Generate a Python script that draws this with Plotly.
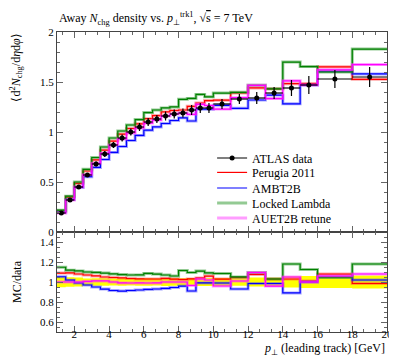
import plotly.graph_objects as go
from plotly.subplots import make_subplots

# ---- data ----
bin_edges = [1, 1.5, 2, 2.5, 3, 3.5, 4, 4.5, 5, 5.5, 6, 6.5, 7, 7.5, 8, 8.5, 9, 9.5, 10,
             11, 12, 13, 14, 15, 16, 18, 20]
data_vals = [0.19, 0.32, 0.45, 0.57, 0.68, 0.78, 0.87, 0.94, 1.00, 1.05, 1.10, 1.13, 1.16,
             1.18, 1.19, 1.22, 1.24, 1.24, 1.28, 1.33, 1.34, 1.39, 1.44, 1.47, 1.53, 1.55]
data_errs = [0.01, 0.015, 0.02, 0.02, 0.025, 0.03, 0.03, 0.035, 0.035, 0.04, 0.04, 0.04, 0.045,
             0.045, 0.045, 0.05, 0.05, 0.05, 0.05, 0.05, 0.06, 0.06, 0.08, 0.09, 0.09, 0.10]
perugia2011 = [0.207, 0.349, 0.486, 0.610, 0.721, 0.819, 0.909, 0.978, 1.035, 1.082, 1.133, 1.164,
               1.201, 1.215, 1.220, 1.257, 1.290, 1.314, 1.318, 1.390, 1.441, 1.432, 1.483, 1.485,
               1.652, 1.527]
ambt2b = [0.200, 0.326, 0.446, 0.553, 0.646, 0.725, 0.796, 0.855, 0.915, 0.966, 1.018, 1.051,
          1.085, 1.115, 1.142, 1.110, 1.228, 1.228, 1.267, 1.237, 1.320, 1.369, 1.282, 1.470,
          1.607, 1.581]
locked_lambda = [0.218, 0.358, 0.500, 0.627, 0.745, 0.850, 0.940, 1.010, 1.070, 1.124, 1.194, 1.220,
                 1.241, 1.251, 1.327, 1.336, 1.376, 1.352, 1.389, 1.397, 1.467, 1.432, 1.699, 1.654,
                 1.600, 1.829]
auet2b_retune = [0.190, 0.320, 0.450, 0.573, 0.687, 0.788, 0.870, 0.931, 0.990, 1.040, 1.089, 1.119,
                 1.160, 1.180, 1.190, 1.177, 1.277, 1.265, 1.229, 1.343, 1.467, 1.334, 1.512, 1.470,
                 1.622, 1.674]

series = [
    ("Perugia 2011", perugia2011, "#ff0000", "rgba(255,60,60,0.45)", False),
    ("AMBT2B", ambt2b, "#0000ff", "rgba(60,60,255,0.45)", False),
    ("Locked Lambda", locked_lambda, "#008000", "rgba(40,150,40,0.5)", True),
    ("AUET2B retune", auet2b_retune, "#ff00ff", "rgba(255,60,255,0.5)", True),
]

FONT = "Liberation Serif"

centres = [(a + b) / 2 for a, b in zip(bin_edges[:-1], bin_edges[1:])]
halfw = [(b - a) / 2 for a, b in zip(bin_edges[:-1], bin_edges[1:])]


def step(vals):
    return list(bin_edges), list(vals) + [vals[-1]]


fig = make_subplots(rows=2, cols=1, shared_xaxes=True, row_heights=[2 / 3, 1 / 3],
                    vertical_spacing=0)

# ratio panel: yellow data band
lo = [1 - e / v for v, e in zip(data_vals, data_errs)]
hi = [1 + e / v for v, e in zip(data_vals, data_errs)]
xs, ys = step(lo)
fig.add_trace(go.Scatter(x=xs, y=ys, mode="lines", line=dict(width=0, shape="hv"),
                         showlegend=False, hoverinfo="skip"), row=2, col=1)
xs, ys = step(hi)
fig.add_trace(go.Scatter(x=xs, y=ys, mode="lines", line=dict(width=0, shape="hv"),
                         fill="tonexty", fillcolor="#ffff00", showlegend=False,
                         hoverinfo="skip"), row=2, col=1)

# MC histograms
for name, vals, col, light, thick_leg in series:
    xs, ys = step(vals)
    fig.add_trace(go.Scatter(x=xs, y=ys, mode="lines", line=dict(color=light, width=3, shape="hv"),
                             showlegend=False, hoverinfo="skip"), row=1, col=1)
    fig.add_trace(go.Scatter(x=xs, y=ys, mode="lines", line=dict(color=col, width=1.2, shape="hv"),
                             showlegend=False), row=1, col=1)
    ratio = [m / d for m, d in zip(vals, data_vals)]
    xs, ys = step(ratio)
    fig.add_trace(go.Scatter(x=xs, y=ys, mode="lines", line=dict(color=light, width=3, shape="hv"),
                             showlegend=False, hoverinfo="skip"), row=2, col=1)
    fig.add_trace(go.Scatter(x=xs, y=ys, mode="lines", line=dict(color=col, width=1.2, shape="hv"),
                             showlegend=False), row=2, col=1)

# data points
fig.add_trace(go.Scatter(x=centres, y=data_vals, mode="markers",
                         marker=dict(color="black", size=5),
                         error_y=dict(type="data", array=data_errs, color="black", thickness=1.2, width=0),
                         error_x=dict(type="data", array=halfw, color="black", thickness=1.2, width=0),
                         showlegend=False), row=1, col=1)

# legend entries, one small legend per entry so the row spacing matches
legend_names = ["legend", "legend2", "legend3", "legend4", "legend5"]
legend_rows_y = [0.58, 0.532, 0.48, 0.43, 0.38]

fig.add_trace(go.Scatter(x=[None], y=[None], mode="lines+markers", name="ATLAS data",
                         line=dict(color="black", width=1.2), marker=dict(color="black", size=5),
                         legend=legend_names[0]),
              row=1, col=1)
for i, (name, vals, col, light, thick_leg) in enumerate(series):
    if thick_leg:
        ln = dict(color=light, width=3)
    else:
        ln = dict(color=col, width=1.2)
    fig.add_trace(go.Scatter(x=[None], y=[None], mode="lines", name=name, line=ln,
                             legend=legend_names[i + 1]), row=1, col=1)

leg_common = dict(x=0.47, xanchor="left", yanchor="middle", bgcolor="rgba(0,0,0,0)",
                  font=dict(family=FONT, size=12, color="black"), itemwidth=30)
legend_layout = {}
for nm, yy in zip(legend_names, legend_rows_y):
    legend_layout[nm] = dict(y=yy, **leg_common)

axis_common = dict(showline=True, linecolor="#444", linewidth=1, mirror="allticks",
                   ticks="inside", ticklen=6, tickcolor="#666", showgrid=False, zeroline=False,
                   tickfont=dict(family=FONT, size=11, color="black"))

fig.update_xaxes(range=[1, 20], dtick=2, tick0=0,
                 minor=dict(ticks="inside", ticklen=3, dtick=2 / 3, tick0=0, tickcolor="#666"),
                 **axis_common)
fig.update_xaxes(showticklabels=False, row=1, col=1)
fig.update_xaxes(ticklabelstandoff=-8, row=2, col=1)
fig.update_yaxes(range=[0, 2], dtick=0.5, tick0=0,
                 minor=dict(ticks="inside", ticklen=3, dtick=0.1, tick0=0, tickcolor="#666"),
                 row=1, col=1, **axis_common)
fig.update_yaxes(range=[0.5, 1.5], dtick=0.2, tick0=0,
                 minor=dict(ticks="inside", ticklen=3, dtick=0.05, tick0=0, tickcolor="#666"),
                 row=2, col=1, **axis_common)

fig.add_annotation(xref="paper", yref="paper", x=0, y=1, xanchor="left", yanchor="bottom",
                   yshift=3, showarrow=False,
                   text="Away <i>N</i><sub>chg</sub> density vs. <i>p</i><sub>⊥</sub><sup>trk1</sup>, "
                        "√<span style='text-decoration:overline'>s</span> = 7 TeV",
                   font=dict(family=FONT, size=12, color="black"))
fig.add_annotation(xref="paper", yref="paper", x=0, y=1, xanchor="right", yanchor="top",
                   xshift=-31, showarrow=False, textangle=-90,
                   text="⟨d<sup>2</sup><i>N</i><sub>chg</sub>/d<i>η</i>d<i>φ</i>⟩",
                   font=dict(family=FONT, size=12, color="black"))
fig.add_annotation(xref="paper", yref="paper", x=0, y=1 / 6, xanchor="right", yanchor="middle",
                   xshift=-31, showarrow=False, textangle=-90, text="MC/data",
                   font=dict(family=FONT, size=12, color="black"))
fig.add_annotation(xref="paper", yref="paper", x=1, y=0, xanchor="right", yanchor="middle",
                   yshift=-17, showarrow=False,
                   text="<i>p</i><sub>⊥</sub> (leading track) [GeV]",
                   font=dict(family=FONT, size=12, color="black"))

fig.update_layout(width=397, height=358, margin=dict(l=49, r=13, t=24, b=34),
                  paper_bgcolor="white", plot_bgcolor="white", **legend_layout)

fig.write_html("out.html")
